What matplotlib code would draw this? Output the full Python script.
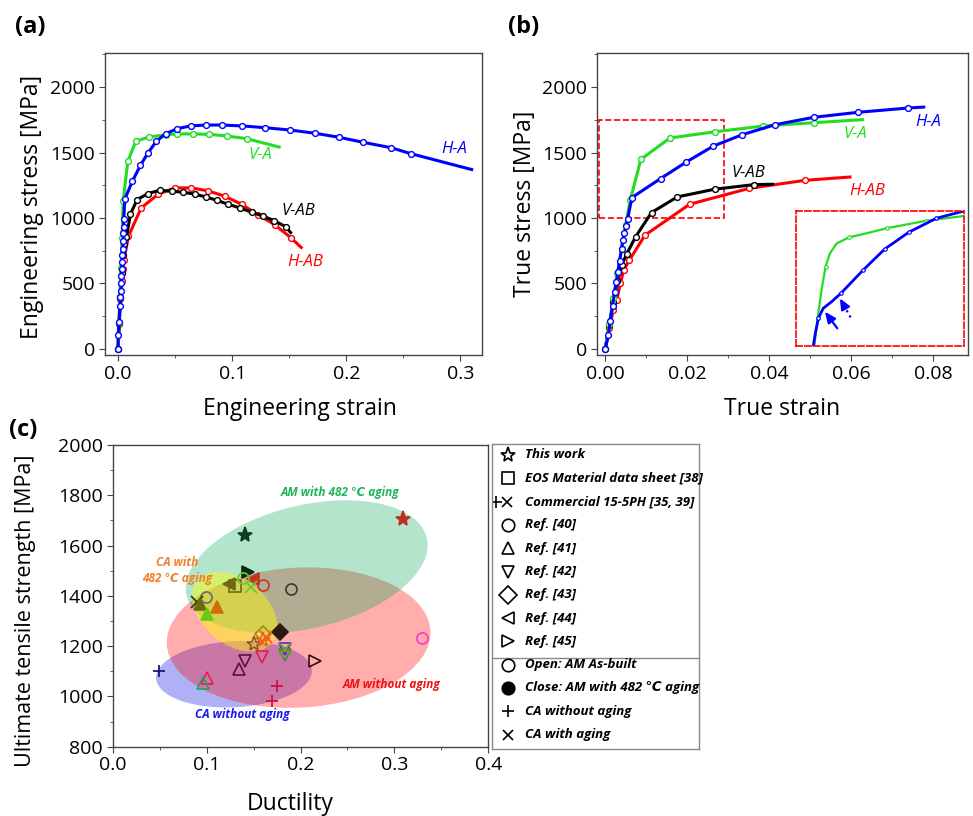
import matplotlib
matplotlib.use('Agg')
import matplotlib.pyplot as plt
from matplotlib.patches import Ellipse, Rectangle
from matplotlib.transforms import ScaledTranslation
from matplotlib.ticker import MultipleLocator, FormatStrFormatter

plt.rcParams['font.family'] = ['Open Sans', 'DejaVu Sans']

# ---------------- (a) engineering curves ----------------
ha_eng_x = [0, 0, 0.0009, 0.0015, 0.002, 0.0023, 0.0026, 0.0029, 0.0032, 0.0035, 0.0038, 0.0041,
            0.0044, 0.0046, 0.0048, 0.005, 0.0058, 0.0126, 0.0196, 0.0263, 0.0336, 0.0418, 0.0518,
            0.0635, 0.0769, 0.0915, 0.1088, 0.1284, 0.1506, 0.1728, 0.1939, 0.2149, 0.2392, 0.2564, 0.31]
ha_eng_y = [0, 107, 208, 328, 399, 445, 500, 556, 607, 666, 714, 767, 823, 882, 932, 991, 1143, 1283,
            1403, 1499, 1586, 1644, 1682, 1703, 1710, 1710, 1703, 1690, 1672, 1647, 1616, 1578, 1537, 1492, 1370]
va_eng_x = [0, 0.0006, 0.0015, 0.0025, 0.0035, 0.0044, 0.0085, 0.0155, 0.0272, 0.0418, 0.0518,
            0.0658, 0.0798, 0.0956, 0.1126, 0.1412]
va_eng_y = [0, 196, 400, 620, 850, 1128, 1433, 1586, 1619, 1636, 1642, 1642, 1639, 1626, 1606, 1542]
vab_eng_x = [0, 0.001, 0.002, 0.003, 0.004, 0.0055, 0.0073, 0.0108, 0.0167, 0.0263, 0.0365, 0.0468,
             0.057, 0.0673, 0.0769, 0.0863, 0.0965, 0.1067, 0.117, 0.1272, 0.1365, 0.1471, 0.1512]
vab_eng_y = [0, 200, 400, 580, 720, 800, 856, 1029, 1141, 1187, 1212, 1204, 1197, 1182, 1161, 1136,
             1105, 1077, 1044, 1014, 981, 933, 889]
hab_eng_x = [0, 0.001, 0.002, 0.003, 0.004, 0.005, 0.0091, 0.0202, 0.0351, 0.0497, 0.0643, 0.079,
             0.0936, 0.1082, 0.1228, 0.1371, 0.1515, 0.1605]
hab_eng_y = [0, 190, 380, 520, 610, 678, 861, 1077, 1182, 1230, 1230, 1207, 1166, 1105, 1024, 950, 849, 775]

# ---------------- (b) true curves ----------------
ha_true_x = [0, 0.0008, 0.0012, 0.0018, 0.0023, 0.0027, 0.0031, 0.0035, 0.004, 0.0043, 0.0047, 0.0051,
             0.0055, 0.0065, 0.0135, 0.0198, 0.0263, 0.0334, 0.0415, 0.0509, 0.0616, 0.0739, 0.0777]
ha_true_y = [0, 107, 216, 330, 437, 513, 590, 673, 767, 831, 887, 940, 996, 1156, 1301, 1428, 1548,
             1636, 1713, 1769, 1807, 1840, 1847]
va_true_x = [0, 0.001, 0.002, 0.003, 0.004, 0.005, 0.0061, 0.0087, 0.0158, 0.0269, 0.0385, 0.0509, 0.0628]
va_true_y = [0, 190, 390, 580, 760, 950, 1136, 1448, 1611, 1659, 1702, 1728, 1751]
vab_true_x = [0, 0.001, 0.002, 0.003, 0.004, 0.0053, 0.0074, 0.0113, 0.0176, 0.0267, 0.0363, 0.0408]
vab_true_y = [0, 180, 360, 520, 640, 729, 856, 1042, 1161, 1220, 1255, 1258]
hab_true_x = [0, 0.001, 0.002, 0.0028, 0.0037, 0.0045, 0.0059, 0.0097, 0.0206, 0.0352, 0.0488, 0.0597]
hab_true_y = [0, 160, 300, 373, 500, 602, 678, 869, 1105, 1227, 1288, 1313]

# inset (normalised window units)
inset_ha_x = [0.103, 0.115, 0.133, 0.162, 0.212, 0.267, 0.4, 0.529, 0.673, 0.836, 1.0]
inset_ha_y = [0, 0.094, 0.205, 0.279, 0.328, 0.39, 0.563, 0.719, 0.844, 0.946, 1.0]
inset_ha_mk = [2, 5, 6, 7, 8, 9]
inset_va_x = [0.109, 0.129, 0.152, 0.176, 0.202, 0.242, 0.317, 0.42, 0.539, 0.776, 1.0]
inset_va_y = [0, 0.205, 0.415, 0.588, 0.686, 0.76, 0.805, 0.835, 0.872, 0.928, 0.963]
inset_va_mk = [1, 3, 6, 8, 9]

# ---------------- (c) UTS vs ductility ----------------
ductility = [0.141, 0.3095, 0.1505, 0.160, 0.1605, 0.178, 0.124, 0.130, 0.1445, 0.149, 0.139, 0.147,
             0.160, 0.1895, 0.0994, 0.0894, 0.093, 0.1114, 0.1008, 0.3297, 0.159, 0.1835, 0.1835,
             0.141, 0.134, 0.2154, 0.1008, 0.0958, 0.0497, 0.1746, 0.1697, 0.163, 0.183]
uts = [1642, 1704, 1207, 1225, 1248, 1255, 1447, 1439, 1496, 1466, 1470, 1434, 1443, 1426, 1397, 1377,
       1368, 1357, 1328, 1231, 1158, 1187, 1165, 1142, 1108, 1142, 1072, 1052, 1102, 1043, 982, 1235, 1190]
shapes = ['*', '*', '*', '*', 'D', 'D', '<', 's', '>', '<', 'o', 'x', 'o', 'o', 'o', 'x', '^', '^', '^',
          'o', 'v', 'v', 'v', 'v', '^', '>', '^', '^', '+', '+', '+', 'x', 'x']
filled = [1, 1, 0, 0, 0, 1, 1, 0, 1, 1, 0, 1, 0, 0, 0, 1, 1, 1, 1, 0, 0, 0, 0, 0, 0, 0, 0, 0, 1, 1, 1, 1, 1]
colors = ['#0b3d22', '#b8321e', '#8b5a2b', '#ff5a1e', '#a08a18', '#2a1a10', '#6e6a14', '#6e6a14',
          '#0d2a14', '#c8321e', '#66cc33', '#66cc33', '#cc3322', '#3a3a2a', '#6a6a6a', '#3a3a10',
          '#6e6a14', '#d46a10', '#66cc11', '#ff33cc', '#e0204a', '#5522dd', '#4a8a2a', '#5a1040',
          '#5a1040', '#3a0a0a', '#e0204a', '#22a060', '#1a1a6a', '#d0104a', '#d0104a', '#ff5a1e', '#66aa22']

legend_labels = ['This work', 'EOS Material data sheet [38]', 'Commercial 15-5PH [35, 39]', 'Ref. [40]',
                 'Ref. [41]', 'Ref. [42]', 'Ref. [43]', 'Ref. [44]', 'Ref. [45]', 'Open: AM As-built',
                 'Close: AM with 482 ℃ aging', 'CA without aging', 'CA with aging']
legend_shapes = ['*', 's', '+x', 'o', '^', 'v', 'D', '<', '>', 'o', 'o', '+', 'x']
legend_filled = [0, 0, 0, 0, 0, 0, 0, 0, 0, 0, 1, 0, 0]

W, H = 973, 816
fig = plt.figure(figsize=(W / 100, H / 100), dpi=100)
LBL = 16.5


def box(l, t, r, b):
    return [l / W, 1 - b / H, (r - l) / W, (b - t) / H]


def style(ax):
    for s in ax.spines.values():
        s.set_color('#444444')
        s.set_linewidth(1.0)
    ax.tick_params(which='both', direction='out', top=False, right=False, labelsize=14, color='#444444')
    ax.tick_params(which='major', length=4, pad=3)
    ax.tick_params(which='minor', length=2.5)


def curve(ax, x, y, c):
    ax.plot(x, y, '-', color=c, lw=2.2, marker='o', ms=4.2, mfc='white', mec=c, mew=1.0,
            markevery=slice(0, len(x) - 1))


# (a)
ax1 = fig.add_axes(box(105, 53, 482, 355))
style(ax1)
curve(ax1, hab_eng_x, hab_eng_y, 'red')
curve(ax1, vab_eng_x, vab_eng_y, 'black')
curve(ax1, va_eng_x, va_eng_y, '#22dd22')
curve(ax1, ha_eng_x, ha_eng_y, 'blue')
ax1.set_xlim(-0.0115, 0.319)
ax1.set_ylim(-46, 2260)
ax1.xaxis.set_major_locator(MultipleLocator(0.1))
ax1.xaxis.set_minor_locator(MultipleLocator(0.05))
ax1.xaxis.set_major_formatter(FormatStrFormatter('%.1f'))
ax1.yaxis.set_major_locator(MultipleLocator(500))
ax1.yaxis.set_minor_locator(MultipleLocator(250))
ax1.set_xlabel('Engineering strain', fontsize=LBL)
ax1.set_ylabel('Engineering stress [MPa]', fontsize=LBL)
ax1.xaxis.set_label_coords(0.517, -0.139)
ax1.yaxis.set_label_coords(-0.162, 0.49)
ax1.text(0.125, 1480, 'V-A', color='#22dd22', fontsize=12, style='italic', ha='center', va='center')
ax1.text(0.2945, 1526, 'H-A', color='blue', fontsize=12, style='italic', ha='center', va='center')
ax1.text(0.1577, 1053, 'V-AB', color='black', fontsize=12, style='italic', ha='center', va='center')
ax1.text(0.1638, 664, 'H-AB', color='red', fontsize=12, style='italic', ha='center', va='center')

# (b)
ax2 = fig.add_axes(box(597, 53, 968, 355))
style(ax2)
curve(ax2, hab_true_x, hab_true_y, 'red')
curve(ax2, vab_true_x, vab_true_y, 'black')
curve(ax2, va_true_x, va_true_y, '#22dd22')
curve(ax2, ha_true_x, ha_true_y, 'blue')
ax2.set_xlim(-0.002, 0.0885)
ax2.set_ylim(-46, 2260)
ax2.xaxis.set_major_locator(MultipleLocator(0.02))
ax2.xaxis.set_minor_locator(MultipleLocator(0.01))
ax2.xaxis.set_major_formatter(FormatStrFormatter('%.2f'))
ax2.yaxis.set_major_locator(MultipleLocator(500))
ax2.yaxis.set_minor_locator(MultipleLocator(250))
ax2.set_xlabel('True strain', fontsize=LBL)
ax2.set_ylabel('True stress [MPa]', fontsize=LBL)
ax2.xaxis.set_label_coords(0.5, -0.139)
ax2.yaxis.set_label_coords(-0.162, 0.5)
ax2.add_patch(Rectangle((-0.0016, 1000), 0.0307, 750, fill=False, ec='red', ls='--', lw=1.2))
ax2.text(0.061, 1641, 'V-A', color='#22dd22', fontsize=12, style='italic', ha='center', va='center')
ax2.text(0.0788, 1733, 'H-A', color='blue', fontsize=12, style='italic', ha='center', va='center')
ax2.text(0.0349, 1344, 'V-AB', color='black', fontsize=12, style='italic', ha='center', va='center')
ax2.text(0.0639, 1206, 'H-AB', color='red', fontsize=12, style='italic', ha='center', va='center')

# inset
axi = fig.add_axes(box(796, 211, 964, 346))
axi.plot(inset_va_x, inset_va_y, '-', color='#22dd22', lw=1.6, marker='o', ms=2.5, mfc='white',
         mec='#22dd22', mew=0.8, markevery=inset_va_mk)
axi.plot(inset_ha_x, inset_ha_y, '-', color='blue', lw=2.0, marker='o', ms=2.5, mfc='white',
         mec='blue', mew=0.8, markevery=inset_ha_mk)
head = dict(arrowstyle='-|>,head_length=0.8,head_width=0.35', color='blue', lw=1.6,
            mutation_scale=8, shrinkA=0, shrinkB=0)
# solid arrow at the first bend
axi.annotate('', xy=(0.172, 0.254), xytext=(0.246, 0.131), arrowprops=head)
# dotted arrow: dotted shaft + solid head
axi.plot([0.325, 0.282], [0.212, 0.306], ':', color='blue', lw=1.6)
axi.annotate('', xy=(0.261, 0.353), xytext=(0.285, 0.300), arrowprops=head)
axi.set_xlim(0, 1)
axi.set_ylim(0, 1)
axi.set_xticks([])
axi.set_yticks([])
for s in axi.spines.values():
    s.set_color('red')
    s.set_linestyle('--')
    s.set_linewidth(1.2)

# (c)
ax3 = fig.add_axes(box(112.7, 445, 488.3, 746.7))
style(ax3)
ax3.set_xlim(0, 0.4)
ax3.set_ylim(800, 2000)


def ellipse(ax, cx, cy, w, h, ang, c, a):
    tr = fig.dpi_scale_trans + ScaledTranslation(cx, cy, ax.transData)
    ax.add_patch(Ellipse((0, 0), w, h, angle=ang, transform=tr, fc=c, alpha=a, ec='none', zorder=1))


ellipse(ax3, 0.1292, 1088, 1.56, 0.66, 3, '#0000e6', 0.31)
ellipse(ax3, 0.198, 1234, 2.64, 1.40, 3, '#ff0000', 0.32)
ellipse(ax3, 0.2066, 1516, 2.47, 1.23, 13.5, '#00ac55', 0.30)
ellipse(ax3, 0.130, 1337, 0.97, 0.65, -40, '#ffff00', 0.45)

for x, y, m, f, c in zip(ductility, uts, shapes, filled, colors):
    size = 11 if m == '*' else 8
    if m in ('x', '+'):
        ax3.plot(x, y, m, color=c, ms=8, mew=1.3, zorder=3)
    else:
        ax3.plot(x, y, m, ms=size, mec=c, mfc=c if f else 'none', mew=1.2, zorder=3)

ax3.xaxis.set_major_locator(MultipleLocator(0.1))
ax3.xaxis.set_minor_locator(MultipleLocator(0.05))
ax3.xaxis.set_major_formatter(FormatStrFormatter('%.1f'))
ax3.yaxis.set_major_locator(MultipleLocator(200))
ax3.yaxis.set_minor_locator(MultipleLocator(100))
ax3.set_xlabel('Ductility', fontsize=LBL)
ax3.set_ylabel('Ultimate tensile strength [MPa]', fontsize=15.5)
ax3.xaxis.set_label_coords(0.472, -0.15)
ax3.yaxis.set_label_coords(-0.204, 0.45)

lab = dict(fontsize=8.5, fontweight='bold', style='italic', ha='center', va='center', zorder=4)
ax3.text(0.2426, 1813, 'AM with 482 ℃ aging', color='#1fb35a', **lab)
ax3.text(0.069, 1502, 'CA with\n482 ℃ aging', color='#f07f2a', linespacing=1.3, **lab)
ax3.text(0.2975, 1049, 'AM without aging', color='#ee1111', **lab)
ax3.text(0.1377, 930, 'CA without aging', color='#1a1aee', **lab)

# legend box
axl = fig.add_axes(box(492, 444, 699, 749))
axl.set_xlim(0, 207)
axl.set_ylim(305, 0)
axl.set_xticks([])
axl.set_yticks([])
for s in axl.spines.values():
    s.set_color('#888888')
    s.set_linewidth(1.0)
axl.axhline(214, color='#888888', lw=1.0)
for i, (t, m, f) in enumerate(zip(legend_labels, legend_shapes, legend_filled)):
    yy = 11 + i * 23.3
    if m == '+x':
        axl.plot(4, yy, '+', color='black', ms=9, mew=1.2)
        axl.plot(15, yy, 'x', color='black', ms=6.5, mew=1.2)
    elif m in ('+', 'x'):
        axl.plot(16, yy, m, color='black', ms=8 if m == '+' else 6.5, mew=1.2)
    else:
        axl.plot(16, yy, m, ms=11 if m == '*' else 9, mec='black', mfc='black' if f else 'none', mew=1.2)
    axl.text(33, yy, t, fontsize=9.5, fontweight='bold', style='italic', va='center', ha='left')

fig.text(15 / W, 1 - 27 / H, '(a)', fontsize=17, fontweight='bold', va='center')
fig.text(508 / W, 1 - 27 / H, '(b)', fontsize=17, fontweight='bold', va='center')
fig.text(9 / W, 1 - 430 / H, '(c)', fontsize=17, fontweight='bold', va='center')

fig.savefig('out.png', dpi=100)
